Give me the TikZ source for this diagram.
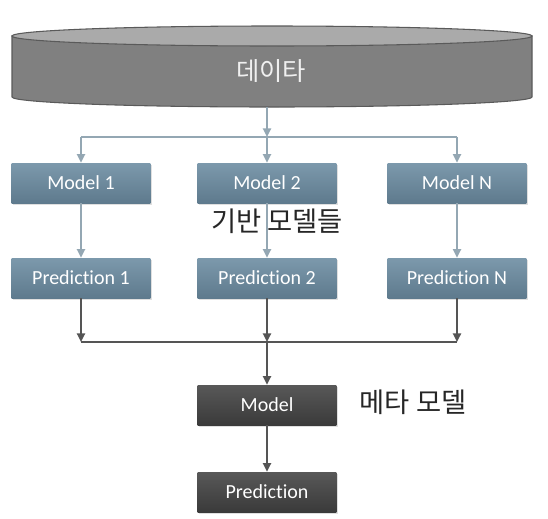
\documentclass[tikz,border=0pt]{standalone}
\usepackage{fontspec}
\setmainfont{Carlito}[Ligatures={NoCommon,NoRequired,NoContextual}, Contextuals=NoAlternate]
\newfontfamily\krfont{Noto Sans CJK KR}
\usetikzlibrary{arrows.meta,shadows}

\definecolor{modeltop}{RGB}{124,153,172}
\definecolor{modelbot}{RGB}{94,122,141}
\definecolor{metatop}{RGB}{88,88,88}
\definecolor{metabot}{RGB}{58,58,58}
\definecolor{diskbody}{RGB}{128,128,128}
\definecolor{disktop}{RGB}{170,170,170}
\definecolor{diskedge}{RGB}{90,90,90}
\definecolor{blueline}{RGB}{148,167,179}
\definecolor{darkline}{RGB}{85,85,85}
\definecolor{krtext}{RGB}{38,38,38}

\tikzset{
	basebox/.style={minimum width=104pt, minimum height=30pt, inner sep=0pt,
		text=white, font=\fontsize{15}{15}\selectfont,
		drop shadow={shadow xshift=1.2pt, shadow yshift=-1.2pt, opacity=0.25}},
	modelbox/.style={basebox, top color=modeltop, bottom color=modelbot},
	metabox/.style={basebox, top color=metatop, bottom color=metabot},
	blueflow/.style={draw=blueline, line width=2pt},
	darkflow/.style={draw=darkline, line width=1.8pt},
	tip/.style={-{Triangle[length=6.5pt, width=6pt]}},
	krlabel/.style={text=krtext, font=\krfont\fontsize{20.5}{20.5}\selectfont, inner sep=0pt},
}

\begin{document}
\begin{tikzpicture}[x=0.75pt,y=0.75pt,yscale=-1,xscale=1]
		\useasboundingbox (0,0) rectangle (548,518);

		%Shape: Can [id:data]
		\draw [draw=diskedge, line width=0.8pt, fill=diskbody] (12,36) -- (12,97) arc [start angle=180, end angle=0, x radius=260, y radius=10] -- (532,36) -- cycle ;
		\draw [draw=diskedge, line width=0.8pt, fill=disktop] (272,36) ellipse [x radius=260, y radius=10] ;
		% Text Node
		\node [krlabel, text=white!94!black, font=\krfont\fontsize{19}{19}\selectfont] (data) at (271,71) {데이타};
		\coordinate (diskbot) at (267,107);
		\coordinate (split) at (267,137);

		%Shape: Rectangle [id:models]
		\node [modelbox] (m1) at (81,183) {Model 1};
		\node [modelbox] (m2) at (267,183) {Model 2};
		\node [modelbox] (mN) at (457,183) {Model N};

		%Shape: Rectangle [id:predictions]
		\node [modelbox] (p1) at (81,278) {Prediction 1};
		\node [modelbox] (p2) at (267,278) {Prediction 2};
		\node [modelbox] (pN) at (457,278) {Prediction N};

		%Shape: Rectangle [id:meta]
		\node [metabox] (meta) at (267,405) {Model};
		\node [metabox] (pred) at (267,492) {Prediction};
		\coordinate (join) at (267,342);

		%Straight Lines [id:from data to models]
		\draw [blueflow, tip] (diskbot) -- (split) ;
		\draw [blueflow] (m1.north |- split) -- (mN.north |- split) ;
		\foreach \m in {m1,m2,mN}
			\draw [blueflow, tip] (\m.north |- split) -- (\m.north) ;

		%Straight Lines [id:from models to predictions]
		\draw [blueflow, tip] (m1) -- (p1) ;
		\draw [blueflow, tip] (m2) -- (p2) ;
		\draw [blueflow, tip] (mN) -- (pN) ;

		%Straight Lines [id:from predictions to meta model]
		\draw [darkflow] (p1.south |- join) -- (pN.south |- join) ;
		\foreach \p in {p1,p2,pN}
			\draw [darkflow, tip] (\p.south) -- (\p.south |- join) ;
		\draw [darkflow, tip] (join) -- (meta) ;
		\draw [darkflow, tip] (meta) -- (pred) ;

		% Text Node
		\node [krlabel] (baselbl) at (277,221) {기반 모델들};
		% Text Node
		\node [krlabel] (metalbl) at (413,402) {메타 모델};

	\end{tikzpicture}
\end{document}
